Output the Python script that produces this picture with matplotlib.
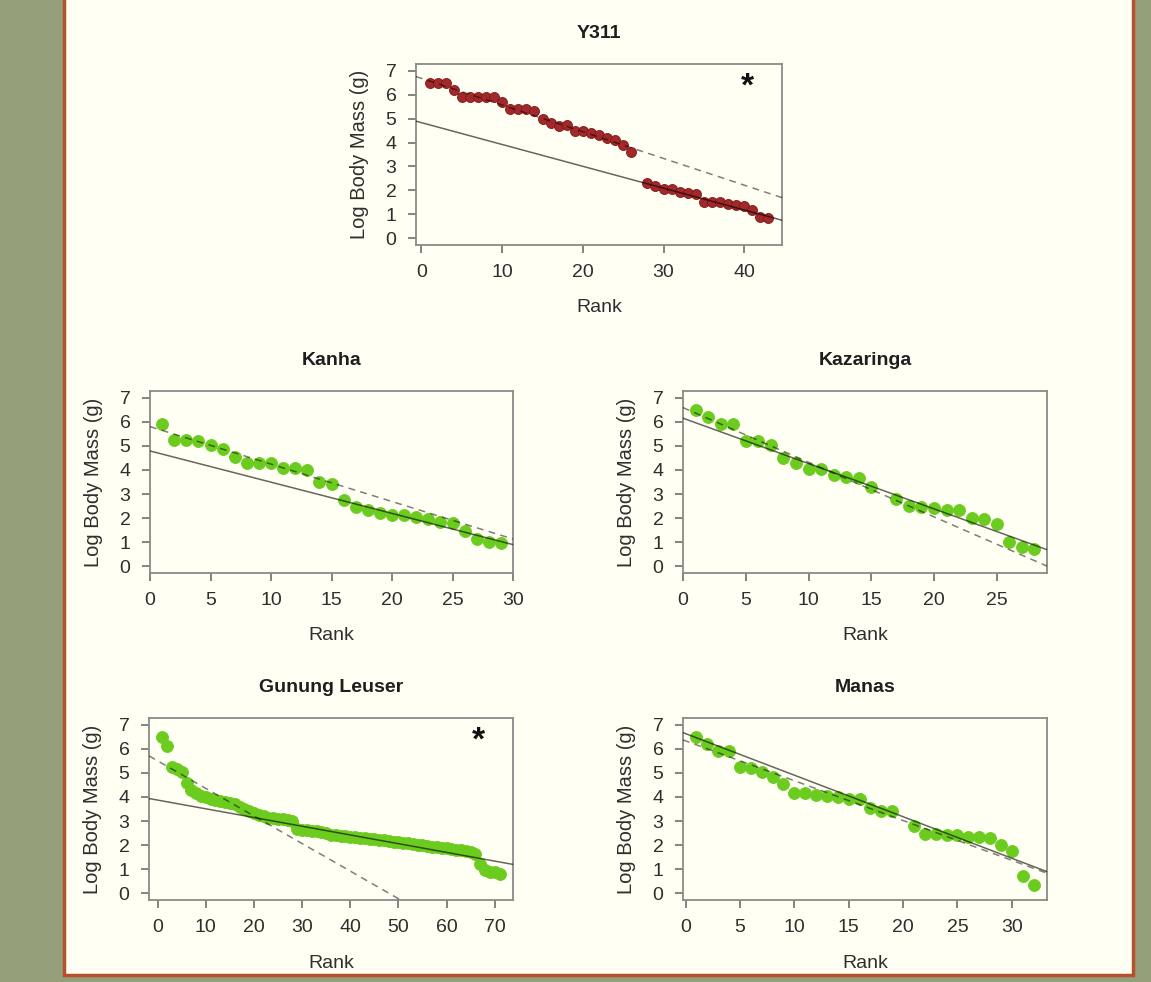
import numpy as np
import matplotlib.pyplot as plt
from matplotlib.patches import Rectangle

plt.rcParams['font.family'] = ['Liberation Sans', 'DejaVu Sans']

# ---- data ----
y311_rank = [1, 2, 3, 4, 5, 6, 7, 8, 9, 10, 11, 12, 13, 14, 15, 16, 17, 18, 19, 20,
             21, 22, 23, 24, 25, 26, 28, 29, 30, 31, 32, 33, 34, 35, 36, 37, 38, 39,
             40, 41, 42, 43]
y311_mass = [6.5, 6.5, 6.5, 6.2, 5.9, 5.9, 5.9, 5.9, 5.9, 5.7, 5.4, 5.4, 5.4, 5.3, 5.0,
             4.8, 4.7, 4.75, 4.5, 4.5, 4.4, 4.3, 4.2, 4.1, 3.9, 3.62,
             2.3, 2.2, 2.05, 2.05, 1.95, 1.9, 1.85, 1.5, 1.5, 1.5, 1.45, 1.4, 1.35,
             1.2, 0.9, 0.85]

kanha_mass = [5.9, 5.25, 5.25, 5.2, 5.05, 4.85, 4.55, 4.3, 4.3, 4.3, 4.1, 4.1, 4.0,
              3.5, 3.4, 2.75, 2.45, 2.35, 2.2, 2.15, 2.15, 2.05, 1.95, 1.85, 1.8,
              1.45, 1.15, 1.0, 0.95]

kaz_rank = [1, 2, 3, 4, 5, 6, 7, 8, 9, 10, 11, 12, 13, 14, 15,
            17, 18, 19, 20, 21, 22, 23, 24, 25, 26, 27, 28]
kaz_mass = [6.5, 6.2, 5.9, 5.9, 5.2, 5.2, 5.05, 4.5, 4.3, 4.05, 4.05, 3.8, 3.7, 3.65,
            3.3, 2.8, 2.5, 2.45, 2.4, 2.35, 2.35, 2.0, 1.95, 1.75, 1.0, 0.8, 0.7]

gl_mass = [6.5, 6.1, 5.25, 5.15, 5.05, 4.6, 4.3, 4.15, 4.05, 4.0,
           3.92, 3.87, 3.82, 3.78, 3.74, 3.72, 3.58, 3.5, 3.42, 3.33,
           3.26, 3.2, 3.14, 3.12, 3.1, 3.08, 3.05, 3.02, 2.68, 2.64,
           2.62, 2.6, 2.58, 2.55, 2.5, 2.42, 2.4, 2.38, 2.36, 2.35,
           2.33, 2.31, 2.28, 2.26, 2.24, 2.22, 2.2, 2.18, 2.15, 2.12,
           2.1, 2.08, 2.05, 2.02, 2.0, 1.97, 1.94, 1.92, 1.9, 1.87,
           1.84, 1.81, 1.78, 1.75, 1.72, 1.65, 1.2, 0.95, 0.9, 0.88, 0.8]

manas_rank = [1, 2, 3, 4, 5, 6, 7, 8, 9, 10, 11, 12, 13, 14, 15, 16, 17, 18, 19,
              21, 22, 23, 24, 25, 26, 27, 28, 29, 30, 31, 32]
manas_mass = [6.5, 6.2, 5.9, 5.9, 5.25, 5.22, 5.05, 4.85, 4.55, 4.15, 4.15, 4.1, 4.05,
              4.0, 3.9, 3.9, 3.55, 3.4, 3.4, 2.8, 2.45, 2.45, 2.4, 2.4, 2.35, 2.35,
              2.3, 2.0, 1.75, 0.7, 0.35]

# fitted lines (intercept, slope): solid, dashed
y311_fit = [(4.83, -0.0912), (6.68, -0.1115)]
kanha_fit = [(4.79, -0.1297), (5.80, -0.1556)]
kaz_fit = [(6.15, -0.1883), (6.59, -0.2270)]
gl_fit = [(3.87, -0.0362), (5.50, -0.1145)]
manas_fit = [(6.63, -0.1725), (6.33, -0.1654)]

red = '#a3282a'
green = '#6ccb1f'
txt = '#2e2e2e'

W, H = 1151, 982
fig = plt.figure(figsize=(W / 100, H / 100), dpi=100, facecolor='#95a07b')
bg = fig.add_axes([0, 0, 1, 1], zorder=-5)
bg.set_axis_off()
bg.set_xlim(0, W)
bg.set_ylim(H, 0)
bg.add_patch(Rectangle((64, -20), 1133 - 64, 975 + 20, fc='#fffff3', ec='#b4522d', lw=2.5))


def make_ax(l, t, r, b):
    return fig.add_axes([l / W, (H - b) / H, (r - l) / W, (b - t) / H])


def panel(ax, title, rank, mass, fits, xlim, xticks, col, ms, ec, star=False):
    ax.set_facecolor('#fffff3')
    ax.plot(rank, mass, 'o', color=col, mec=ec, mew=0.6, ms=ms, zorder=2)
    ax.axline((0, fits[0][0]), slope=fits[0][1], color='black', alpha=0.6, lw=1.1, zorder=3)
    ax.axline((0, fits[1][0]), slope=fits[1][1], color='black', alpha=0.5, lw=1.1,
              dashes=(4.5, 3.5), zorder=3)
    ax.set_xlim(xlim)
    ax.set_ylim(-0.28, 7.28)
    ax.set_xticks(xticks)
    ax.set_yticks(range(0, 8))
    for s in ax.spines.values():
        s.set_color('#8a8a8a')
        s.set_linewidth(1.3)
    ax.tick_params(direction='out', length=6, width=1.3, color='#7a7a7a',
                   labelsize=14, labelcolor=txt, pad=8)
    ax.set_title(title, fontsize=14, fontweight='bold', color='#1e1e1e', pad=19)
    ax.set_xlabel('Rank', fontsize=14, color=txt, labelpad=13)
    ax.set_ylabel('Log Body Mass (g)', fontsize=14.5, color=txt, labelpad=12)
    if star:
        ax.text(0.905, 0.875, '*', transform=ax.transAxes, fontsize=24,
                fontweight='bold', ha='center', va='center', color='#111')


ax1 = make_ax(416, 64, 782, 245)
panel(ax1, 'Y311', y311_rank, y311_mass, y311_fit, (-0.68, 44.68), [0, 10, 20, 30, 40],
      red, 7.2, '#7c1a1a', star=True)

ax2 = make_ax(150, 391, 513, 573)
panel(ax2, 'Kanha', np.arange(1, len(kanha_mass) + 1), kanha_mass, kanha_fit, (0, 30),
      [0, 5, 10, 15, 20, 25, 30], green, 8.6, green)

ax3 = make_ax(683, 391, 1047, 573)
panel(ax3, 'Kazaringa', kaz_rank, kaz_mass, kaz_fit, (0, 29),
      [0, 5, 10, 15, 20, 25], green, 8.6, green)

ax4 = make_ax(149, 718, 513, 900)
panel(ax4, 'Gunung Leuser', np.arange(1, len(gl_mass) + 1), gl_mass, gl_fit, (-1.8, 73.8),
      [0, 10, 20, 30, 40, 50, 60, 70], green, 8.6, green, star=True)

ax5 = make_ax(683, 718, 1047, 900)
panel(ax5, 'Manas', manas_rank, manas_mass, manas_fit, (-0.24, 33.24),
      [0, 5, 10, 15, 20, 25, 30], green, 8.6, green)

fig.savefig('out.png', dpi=100, facecolor=fig.get_facecolor())
